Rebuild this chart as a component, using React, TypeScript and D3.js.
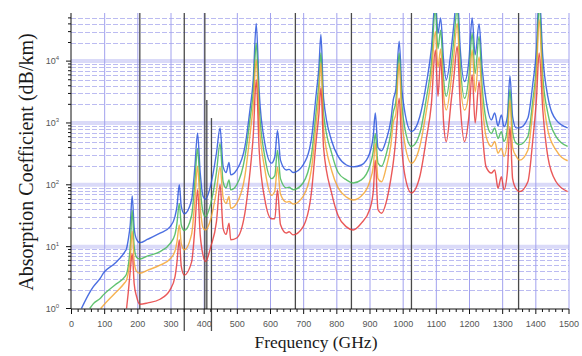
import React, { useEffect, useRef } from 'react'
import * as d3 from 'd3'

// frequency grid (GHz) shared by the four curves
const freqs = [30, 55, 66, 88, 96, 131, 161, 166, 171, 177,
  183, 189, 196, 206, 230, 267, 297, 312, 318, 325,
  331, 340, 362, 372, 380, 388, 397, 404, 420, 437,
  448, 457, 466, 475, 480, 498, 523, 538, 548, 557,
  566, 583, 603, 613, 621, 630, 648, 656, 668, 698,
  723, 738, 746, 752, 760, 785, 804, 829, 849, 874,
  899, 910, 916, 924, 935, 949, 963, 970, 978, 988,
  996, 1004, 1025, 1050, 1070, 1085, 1097, 1105, 1113, 1122,
  1130, 1145, 1153, 1163, 1172, 1185, 1198, 1208, 1217, 1229,
  1238, 1250, 1266, 1276, 1286, 1296, 1304, 1314, 1322, 1330,
  1341, 1351, 1376, 1391, 1402, 1410, 1421, 1436, 1461, 1496]

// absorption (dB/km), null where the curve is below the axis
const blueVals = [1.0, 1.82, 2.25, 3.16, 3.72, 5.37, 8.32, 9.33, 12.9, 22.4,
  66, 20, 13.2, 11.6, 13.2, 16.5, 20.9, 30.5, 44.7, 100,
  44.7, 33.9, 56.9, 195, 684, 158, 64.6, 58.5, 100, 324,
  832, 200, 158, 229, 145, 174, 417, 1620, 5010, 40700,
  3160, 468, 224, 282, 759, 251, 174, 178, 158, 209,
  537, 3020, 7940, 26900, 2510, 501, 288, 209, 195, 209,
  324, 631, 1450, 398, 355, 537, 1120, 2340, 3550, 20900,
  3550, 1620, 724, 1260, 4370, 15800, 100000, 28200, 50100, 10000,
  5010, 15800, 39800, 126000, 15800, 4680, 10000, 50100, 12600, 39800,
  7940, 2340, 1120, 1450, 891, 1350, 871, 1260, 5750, 1260,
  832, 832, 1200, 4370, 15800, 126000, 11700, 2690, 1120, 832]

const greenVals = [null, 1.0, 1.2, 1.48, 1.66, 2.4, 3.27, 3.63, 4.79, 10,
  38.9, 10, 6.76, 6.31, 7.08, 8.32, 11.2, 15.8, 24, 50.1,
  22.4, 18.2, 31.6, 112, 389, 89.1, 35.5, 30.5, 50.1, 158,
  468, 112, 89.1, 120, 83.2, 100, 282, 1120, 3160, 19500,
  1780, 282, 126, 141, 363, 126, 89.1, 91.2, 83.2, 107,
  288, 1620, 4470, 13500, 1410, 316, 158, 120, 107, 120,
  200, 355, 676, 224, 200, 316, 708, 1450, 2240, 13500,
  2000, 891, 417, 676, 2510, 8910, 70800, 15800, 31600, 5010,
  2690, 8910, 22400, 70800, 8910, 2510, 5620, 28200, 6310, 25100,
  3980, 1120, 676, 832, 562, 724, 501, 794, 3470, 708,
  468, 447, 603, 2340, 8910, 79400, 5620, 1450, 603, 417]

const orangeVals = [null, null, null, 1.0, 1.12, 1.76, 2.63, 2.88, 3.72, 6.31,
  17.8, 5.62, 3.98, 3.72, 4.17, 5.01, 6.31, 8.51, 12, 22.4,
  11.2, 8.91, 15.8, 56.2, 200, 44.7, 20, 18.6, 28.2, 79.4,
  195, 63.1, 50.1, 64.6, 41.7, 50.1, 141, 631, 2000, 10500,
  1000, 178, 67.6, 79.4, 195, 70.8, 52.5, 53.7, 49, 64.6,
  174, 1000, 2820, 9330, 794, 166, 89.1, 63.1, 56.9, 66.1,
  112, 200, 468, 126, 112, 191, 447, 1000, 1410, 9330,
  1120, 501, 224, 417, 1580, 5620, 30200, 7940, 15800, 2820,
  1620, 5010, 12600, 40700, 5010, 1620, 3160, 15100, 3160, 11700,
  2240, 603, 417, 501, 324, 389, 288, 501, 2340, 398,
  288, 251, 363, 1620, 6310, 46800, 3470, 776, 363, 245]

const redVals = [null, null, null, null, null, null, null, 1.0, 1.78, 3.98,
  7.76, 2.51, 1.58, 1.17, 1.23, 1.41, 2.0, 3.24, 5.62, 12.9,
  4.79, 3.47, 5.62, 20, 83.2, 15.8, 7.08, 5.75, 10, 25.1,
  100, 20, 15.8, 24, 12.9, 13.8, 35.5, 158, 631, 5010,
  355, 57.5, 28.2, 28.2, 83.2, 22.9, 16.6, 17.4, 15.5, 20.9,
  72.4, 537, 1410, 3720, 398, 70.8, 31.6, 20.9, 18.6, 24,
  39.8, 79.4, 251, 39.8, 34.7, 52.5, 126, 224, 562, 2510,
  398, 155, 74.1, 135, 562, 2000, 15100, 2690, 11200, 1000,
  501, 2340, 5620, 17400, 2000, 501, 1260, 6030, 1000, 4680,
  794, 195, 155, 174, 88.1, 135, 83.2, 158, 871, 126,
  85.1, 77.6, 112, 537, 2510, 13500, 1620, 288, 112, 77.6]

// vertical marker lines (GHz) and where they start (dB/km, null = top)
const markerFreqs = [206, 340, 402, 408, 422, 675, 844, 1025, 1348]
const markerTops = [null, null, null, 2350, 1200, null, null, null, null]

const xTickLabels = [0, 100, 200, 300, 400, 500, 600, 700, 800, 900, 1000, 1100, 1200, 1300, 1400, 1500]
const yTickExps = [0, 1, 2, 3, 4]

const W = 582
const H = 356

export default function App() {
  const ref = useRef<SVGSVGElement>(null)

  useEffect(() => {
    const node = ref.current
    if (!node) return
    const svg = d3.select(node)
    svg.selectAll('*').remove()

    const x = d3.scaleLinear().domain([0, 1500]).range([71.5, 569])
    const y = d3.scaleLog().domain([1, 6e4]).range([308.5, 13])
    const left = 71
    const right = 569
    const top = 13
    const bottom = 309

    svg.append('defs').append('clipPath').attr('id', 'plot')
      .append('rect').attr('x', left).attr('y', top).attr('width', right - left).attr('height', bottom - top)

    const grid = svg.append('g')

    // decade bands
    grid.selectAll('line.decade')
      .data(yTickExps.filter((e) => e > 0))
      .join('line')
      .attr('x1', left).attr('x2', right)
      .attr('y1', (e) => y(10 ** e)).attr('y2', (e) => y(10 ** e))
      .attr('stroke', '#dadaf8').attr('stroke-width', 4)

    // minor horizontal dashed lines
    const minors: number[] = []
    yTickExps.forEach((e) => {
      for (let m = 2; m < 10; m++) {
        const v = m * 10 ** e
        if (v < 6e4) minors.push(v)
      }
    })
    grid.selectAll('line.minor')
      .data(minors)
      .join('line')
      .attr('x1', left).attr('x2', right)
      .attr('y1', (v) => Math.round(y(v)) + 0.5).attr('y2', (v) => Math.round(y(v)) + 0.5)
      .attr('stroke', '#8d8de8').attr('stroke-opacity', 0.6)
      .attr('stroke-width', 1).attr('stroke-dasharray', '5,2')

    // vertical grid
    grid.selectAll('line.vert')
      .data(xTickLabels.filter((f) => f > 0))
      .join('line')
      .attr('x1', (f) => x(f)).attr('x2', (f) => x(f))
      .attr('y1', top).attr('y2', bottom)
      .attr('stroke', '#a2a2ee').attr('stroke-width', 1)

    // marker lines
    const tails = new Set([340, 422])
    svg.append('g')
      .selectAll('line')
      .data(markerFreqs.map((f, i) => ({ f, t: markerTops[i] })))
      .join('line')
      .attr('x1', (d) => x(d.f)).attr('x2', (d) => x(d.f))
      .attr('y1', (d) => (d.t == null ? top : y(d.t)))
      .attr('y2', (d) => (tails.has(d.f) ? bottom + 22 : bottom))
      .attr('stroke', '#4a4a4a').attr('stroke-width', 1.3)

    // curves
    const line = d3.line<[number, number | null]>()
      .defined((d) => d[1] != null)
      .x((d) => x(d[0]))
      .y((d) => y(d[1] as number))
      .curve(d3.curveMonotoneX)

    const series = [
      { vals: blueVals, color: '#2c56dc' },
      { vals: greenVals, color: '#46b957' },
      { vals: orangeVals, color: '#f4a634' },
      { vals: redVals, color: '#e63c3c' },
    ]
    svg.append('g')
      .attr('clip-path', 'url(#plot)')
      .selectAll('path')
      .data(series)
      .join('path')
      .attr('d', (s) => line(freqs.map((f, i) => [f, s.vals[i]] as [number, number | null])))
      .attr('fill', 'none')
      .attr('stroke', (s) => s.color)
      .attr('stroke-width', 1.4)
      .attr('stroke-opacity', 0.85)

    // axes
    const axes = svg.append('g').attr('stroke', '#111')
    axes.append('line').attr('x1', left).attr('x2', left).attr('y1', top).attr('y2', bottom)
    axes.append('line').attr('x1', left).attr('x2', right).attr('y1', bottom).attr('y2', bottom)

    // y ticks
    axes.selectAll('line.yt')
      .data(minors)
      .join('line')
      .attr('x1', left - 3).attr('x2', left)
      .attr('y1', (v) => y(v)).attr('y2', (v) => y(v))
    axes.selectAll('line.ym')
      .data(yTickExps)
      .join('line')
      .attr('x1', left - 5).attr('x2', left)
      .attr('y1', (e) => y(10 ** e)).attr('y2', (e) => y(10 ** e))

    // x ticks
    axes.selectAll('line.xt')
      .data(d3.range(0, 1501, 20))
      .join('line')
      .attr('x1', (f) => x(f)).attr('x2', (f) => x(f))
      .attr('y1', bottom).attr('y2', (f) => bottom + (f % 100 === 0 ? 5 : 3))

    // tick labels
    const font = "'Liberation Sans', Arial, sans-serif"
    svg.append('g')
      .selectAll('text')
      .data(xTickLabels)
      .join('text')
      .attr('x', (f) => x(f))
      .attr('y', 327)
      .attr('text-anchor', 'middle')
      .attr('font-family', font)
      .attr('font-size', 9)
      .attr('fill', '#555')
      .text((f) => f)

    const yl = svg.append('g')
      .selectAll('text')
      .data(yTickExps)
      .join('text')
      .attr('x', 59)
      .attr('y', (e) => y(10 ** e) + 3)
      .attr('text-anchor', 'end')
      .attr('font-family', font)
      .attr('font-size', 9)
      .attr('fill', '#555')
    yl.append('tspan').text('10')
    yl.append('tspan').attr('dy', -4).attr('font-size', 6).text((e) => e)

    // axis titles
    const serif = "'Liberation Serif', 'Times New Roman', serif"
    svg.append('text')
      .attr('transform', 'translate(33,162) rotate(-90)')
      .attr('text-anchor', 'middle')
      .attr('font-family', serif)
      .attr('font-size', 20)
      .attr('fill', '#1a1a1a')
      .text('Absorption Coefficient (dB/km)')

    svg.append('text')
      .attr('x', 316)
      .attr('y', 348)
      .attr('text-anchor', 'middle')
      .attr('font-family', serif)
      .attr('font-size', 17.5)
      .attr('fill', '#1a1a1a')
      .text('Frequency (GHz)')
  }, [])

  return (
    <svg ref={ref} width={W} height={H}
      style={{ position: 'absolute', left: 0, top: 0, background: '#fff' }} />
  )
}
